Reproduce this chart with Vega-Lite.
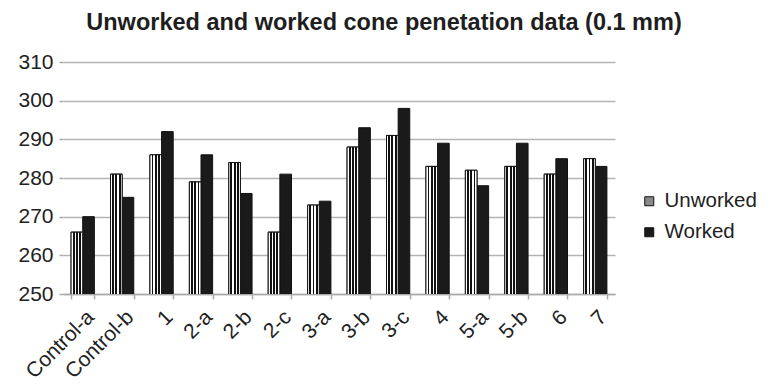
{
  "$schema": "https://vega.github.io/schema/vega-lite/v6.json",
  "width": 552,
  "height": 232,
  "autosize": {"type": "none"},
  "padding": {"left": 63, "top": 62, "right": 157, "bottom": 97},
  "background": "white",
  "title": {
    "text": "Unworked and worked cone penetation data (0.1 mm)",
    "font": "Liberation Sans",
    "fontSize": 23.5,
    "fontWeight": "bold",
    "color": "#1e1e1e",
    "anchor": "middle",
    "dx": 45,
    "offset": 17
  },
  "config": {
    "view": {"stroke": null},
    "font": "Liberation Sans"
  },
  "data": {
    "values": [
      {"cat": "Control-a", "series": "Unworked", "value": 266},
      {"cat": "Control-a", "series": "Worked", "value": 270},
      {"cat": "Control-b", "series": "Unworked", "value": 281},
      {"cat": "Control-b", "series": "Worked", "value": 275},
      {"cat": "1", "series": "Unworked", "value": 286},
      {"cat": "1", "series": "Worked", "value": 292},
      {"cat": "2-a", "series": "Unworked", "value": 279},
      {"cat": "2-a", "series": "Worked", "value": 286},
      {"cat": "2-b", "series": "Unworked", "value": 284},
      {"cat": "2-b", "series": "Worked", "value": 276},
      {"cat": "2-c", "series": "Unworked", "value": 266},
      {"cat": "2-c", "series": "Worked", "value": 281},
      {"cat": "3-a", "series": "Unworked", "value": 273},
      {"cat": "3-a", "series": "Worked", "value": 274},
      {"cat": "3-b", "series": "Unworked", "value": 288},
      {"cat": "3-b", "series": "Worked", "value": 293},
      {"cat": "3-c", "series": "Unworked", "value": 291},
      {"cat": "3-c", "series": "Worked", "value": 298},
      {"cat": "4", "series": "Unworked", "value": 283},
      {"cat": "4", "series": "Worked", "value": 289},
      {"cat": "5-a", "series": "Unworked", "value": 282},
      {"cat": "5-a", "series": "Worked", "value": 278},
      {"cat": "5-b", "series": "Unworked", "value": 283},
      {"cat": "5-b", "series": "Worked", "value": 289},
      {"cat": "6", "series": "Unworked", "value": 281},
      {"cat": "6", "series": "Worked", "value": 285},
      {"cat": "7", "series": "Unworked", "value": 285},
      {"cat": "7", "series": "Worked", "value": 283}
    ]
  },
  "encoding": {
    "x": {
      "field": "cat",
      "type": "nominal",
      "sort": null,
      "title": null,
      "scale": {"paddingInner": 0.41, "paddingOuter": 0.205},
      "axis": {
        "orient": "bottom",
        "labelAngle": -45,
        "labelFontSize": 21,
        "labelColor": "#222",
        "labelPadding": 7,
        "labelOverlap": false,
        "ticks": true,
        "tickBand": "extent",
        "tickSize": 5,
        "tickColor": "#aaaaaa",
        "tickWidth": 1.5,
        "domainColor": "#aaaaaa",
        "domainWidth": 1.5,
        "grid": false
      }
    },
    "xOffset": {
      "field": "series",
      "type": "nominal",
      "scale": {"domain": ["Unworked", "Worked"], "paddingInner": 0, "paddingOuter": 0}
    },
    "y": {
      "field": "value",
      "type": "quantitative",
      "title": null,
      "scale": {"domain": [250, 310], "zero": false, "nice": false},
      "axis": {
        "values": [250, 260, 270, 280, 290, 300, 310],
        "labelOverlap": false,
        "labelFontSize": 21,
        "labelColor": "#222",
        "labelPadding": 6,
        "tickSize": 4,
        "tickColor": "#aaaaaa",
        "tickWidth": 1.5,
        "domain": false,
        "gridColor": "#b4b4b4",
        "gridWidth": 1.5
      }
    }
  },
  "layer": [
    {
      "mark": {"type": "bar", "stroke": "#111", "strokeWidth": 1, "clip": true},
      "encoding": {
        "fill": {
          "field": "series",
          "type": "nominal",
          "scale": {"domain": ["Unworked", "Worked"], "range": ["#8a8a8a", "#1a1a1a"]},
          "legend": {
            "title": null,
            "orient": "none",
            "legendX": 576,
            "legendY": 129,
            "symbolType": "square",
            "symbolSize": 81,
            "symbolStrokeColor": "#111",
            "symbolStrokeWidth": 1,
            "labelFontSize": 20.5,
            "labelColor": "#222",
            "labelOffset": 5,
            "rowPadding": 10
          }
        }
      }
    },
    {
      "transform": [{"filter": "datum.series === 'Unworked'"}],
      "mark": {
        "type": "bar",
        "stroke": "#111",
        "strokeWidth": 1,
        "clip": true,
        "fill": {
          "gradient": "linear",
          "x1": 0, "y1": 0, "x2": 1, "y2": 0,
          "stops": [
            {"offset": 0, "color": "white"},
            {"offset": 0.14, "color": "white"},
            {"offset": 0.14, "color": "#111"},
            {"offset": 0.3, "color": "#111"},
            {"offset": 0.3, "color": "white"},
            {"offset": 0.42, "color": "white"},
            {"offset": 0.42, "color": "#111"},
            {"offset": 0.58, "color": "#111"},
            {"offset": 0.58, "color": "white"},
            {"offset": 0.7, "color": "white"},
            {"offset": 0.7, "color": "#111"},
            {"offset": 0.86, "color": "#111"},
            {"offset": 0.86, "color": "white"},
            {"offset": 1, "color": "white"}
          ]
        }
      },
      "encoding": {}
    }
  ]
}
